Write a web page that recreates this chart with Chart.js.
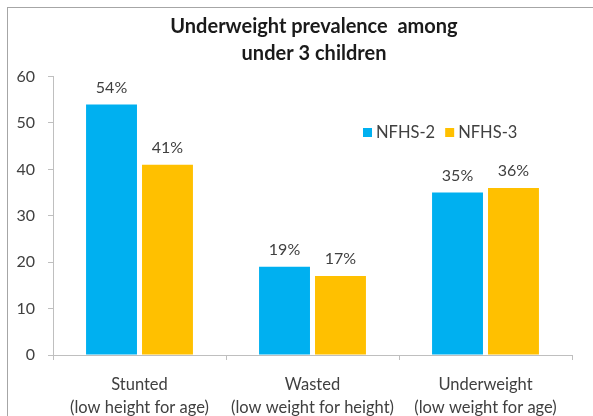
<!DOCTYPE html>
<html>
<head>
<meta charset="utf-8">
<title>Underweight prevalence among under 3 children</title>
<script src="https://cdn.jsdelivr.net/npm/chart.js@4.4.1/dist/chart.umd.min.js"></script>
<style>
  html, body { margin: 0; padding: 0; background: #fff; }
  canvas { display: block; }
</style>
</head>
<body>
<canvas id="chart" width="593" height="416"></canvas>
<script>
// Chart data
const categories = [
    ['Stunted', '(low height for age)'],
    ['Wasted', '(low weight for height)'],
    ['Underweight', '(low weight for age)']
];
const seriesNames = ['NFHS-2', 'NFHS-3'];
const nfhs2 = [54, 19, 35];
const nfhs3 = [41, 17, 36];
const yTicks = [0, 10, 20, 30, 40, 50, 60];

const FONT = 'Lato, "Open Sans", sans-serif';
const COLORS = ['#00b0f0', '#ffc000'];
const AXIS_GREY = '#bfbfbf';
const TEXT_GREY = '#404040';

// White background plus the outer frame line
const framePlugin = {
    id: 'frame',
    beforeDraw(chart) {
        const ctx = chart.ctx;
        ctx.save();
        ctx.fillStyle = '#fff';
        ctx.fillRect(0, 0, chart.width, chart.height);
        ctx.strokeStyle = '#a6a6a6';
        ctx.lineWidth = 1;
        ctx.strokeRect(7.5, 7.5, chart.width + 20, chart.height + 20);
        ctx.restore();
    }
};

// The title sits centred on the whole frame, not just the plot
const titleShiftPlugin = {
    id: 'titleShift',
    afterLayout(chart) {
        if (chart.titleBlock) {
            chart.titleBlock.left += 56;
        }
    }
};

// Percentage labels above each bar
const valueLabelsPlugin = {
    id: 'valueLabels',
    afterDatasetsDraw(chart) {
        const ctx = chart.ctx;
        ctx.save();
        ctx.font = '16px ' + FONT;
        ctx.fillStyle = TEXT_GREY;
        ctx.textAlign = 'center';
        ctx.textBaseline = 'middle';
        chart.data.datasets.forEach((ds, i) => {
            chart.getDatasetMeta(i).data.forEach((bar, j) => {
                ctx.fillText(ds.data[j] + '%', bar.x, bar.y - 17);
            });
        });
        ctx.restore();
    }
};

// Legend drawn inside the plot area, right of the middle group
const insideLegendPlugin = {
    id: 'insideLegend',
    afterDraw(chart) {
        const ctx = chart.ctx;
        let x = 363;
        const y = 132.5;
        ctx.save();
        ctx.font = '16.5px ' + FONT;
        ctx.textBaseline = 'middle';
        chart.data.datasets.forEach(ds => {
            ctx.fillStyle = ds.backgroundColor;
            ctx.fillRect(x, y - 4.5, 9, 9);
            x += 13;
            ctx.fillStyle = TEXT_GREY;
            ctx.fillText(ds.label, x, y);
            x += ctx.measureText(ds.label).width + 10;
        });
        ctx.restore();
    }
};

const chart = new Chart(document.getElementById('chart').getContext('2d'), {
    type: 'bar',
    data: {
        labels: categories,
        datasets: [
            { label: seriesNames[0], data: nfhs2, backgroundColor: COLORS[0] },
            { label: seriesNames[1], data: nfhs3, backgroundColor: COLORS[1] }
        ]
    },
    options: {
        responsive: false,
        animation: false,
        categoryPercentage: 0.647,
        barPercentage: 0.91,
        layout: { padding: { top: 0, left: 0, right: 21, bottom: 0 } },
        plugins: {
            legend: { display: false },
            tooltip: { enabled: false },
            title: {
                display: true,
                text: ['Underweight prevalence  among', 'under 3 children'],
                color: '#1a1a1a',
                font: { family: FONT, size: 20, weight: 'bold', lineHeight: 1.35 },
                padding: { top: 13, bottom: 9.6 }
            }
        },
        scales: {
            x: {
                grid: {
                    display: true,
                    drawOnChartArea: false,
                    offset: true,
                    tickLength: 5,
                    color: AXIS_GREY
                },
                border: { color: AXIS_GREY },
                ticks: {
                    color: TEXT_GREY,
                    padding: 13,
                    maxRotation: 0,
                    font: { family: FONT, size: 16.5, lineHeight: 1.39 }
                },
                afterFit: scale => { scale.height = 61; }
            },
            y: {
                min: 0,
                max: 60,
                grid: {
                    display: true,
                    drawOnChartArea: false,
                    tickLength: 5,
                    color: AXIS_GREY
                },
                border: { color: AXIS_GREY },
                ticks: {
                    color: TEXT_GREY,
                    padding: 13,
                    font: { family: FONT, size: 16 }
                },
                afterBuildTicks: scale => { scale.ticks = yTicks.map(v => ({ value: v })); },
                afterFit: scale => { scale.width = 53; }
            }
        }
    },
    plugins: [framePlugin, titleShiftPlugin, valueLabelsPlugin, insideLegendPlugin]
});
</script>
</body>
</html>
